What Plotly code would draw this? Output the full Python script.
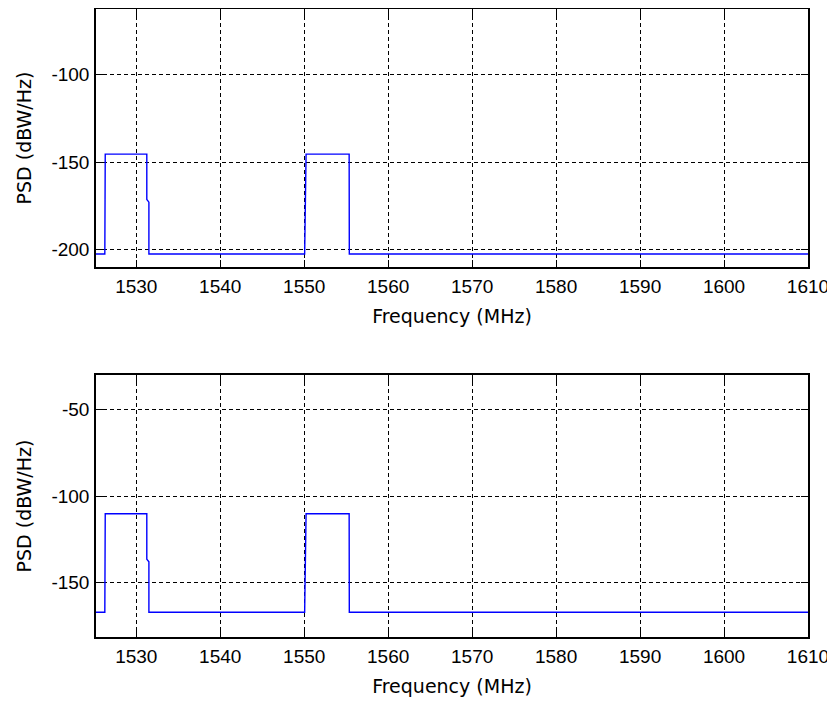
import plotly.graph_objects as go

# ---- data ----
freq_mhz = [1525.2, 1526.25, 1526.3, 1531.25, 1531.25, 1531.5, 1531.5,
            1550.05, 1550.22, 1555.35, 1555.37, 1610.0]
psd_top = [-202.7, -202.7, -145.5, -145.5, -171.5, -173.0, -202.7,
           -202.7, -145.5, -145.5, -202.7, -202.7]
psd_bottom = [-167.2, -167.2, -110.2, -110.2, -136.5, -138.0, -167.2,
              -167.2, -110.2, -110.2, -167.2, -167.2]

x_ticks = [1530, 1540, 1550, 1560, 1570, 1580, 1590, 1600, 1610]
x_range = [1525.2, 1610]
y_ticks_top = [-200, -150, -100]
y_range_top = [-210.1, -62.4]
y_ticks_bottom = [-150, -100, -50]
y_range_bottom = [-181.5, -30]

x_title = "Frequency (MHz)"
y_title = "PSD (dBW/Hz)"

TICK_FONT = dict(family="Liberation Sans", size=19, color="#000000")
TITLE_FONT = dict(family="DejaVu Sans", size=19, color="#000000")

fig = go.Figure()
fig.add_trace(go.Scatter(x=freq_mhz, y=psd_top, mode="lines",
                         line=dict(color="#0000ff", width=1.4),
                         xaxis="x", yaxis="y", showlegend=False))
fig.add_trace(go.Scatter(x=freq_mhz, y=psd_bottom, mode="lines",
                         line=dict(color="#0000ff", width=1.4),
                         xaxis="x2", yaxis="y2", showlegend=False))

common_axis = dict(
    showline=True, linecolor="#000000", linewidth=1.5, mirror="ticks",
    ticks="inside", ticklen=7, tickcolor="#000000", tickwidth=1,
    showgrid=True, gridcolor="#000000", gridwidth=1, griddash="4px,3px",
    zeroline=False, tickfont=TICK_FONT, automargin=False,
)

def xaxis_conf(anchor):
    d = dict(common_axis)
    d.update(range=x_range, tickvals=x_ticks,
             ticktext=[str(v) for v in x_ticks], anchor=anchor,
             ticklabelstandoff=1,
             title=dict(text=x_title, font=TITLE_FONT, standoff=14))
    return d

def yaxis_conf(anchor, rng, ticks, domain):
    d = dict(common_axis)
    d.update(range=rng, tickvals=ticks,
             ticktext=[str(v) for v in ticks], anchor=anchor, domain=domain,
             ticklabelstandoff=1,
             title=dict(text=y_title, font=TITLE_FONT, standoff=15))
    return d

# page body has an 8px margin, so the figure is sized to fit the window
fig.update_layout(
    width=827, height=696,
    margin=dict(l=88, r=27, t=1, b=67, autoexpand=False),
    paper_bgcolor="#ffffff", plot_bgcolor="#ffffff",
    xaxis=xaxis_conf("y"),
    yaxis=yaxis_conf("x", y_range_top, y_ticks_top, [0.5892, 1.0]),
    xaxis2=xaxis_conf("y2"),
    yaxis2=yaxis_conf("x2", y_range_bottom, y_ticks_bottom, [0.0, 0.4172]),
    showlegend=False,
)

fig.write_html("out.html")
